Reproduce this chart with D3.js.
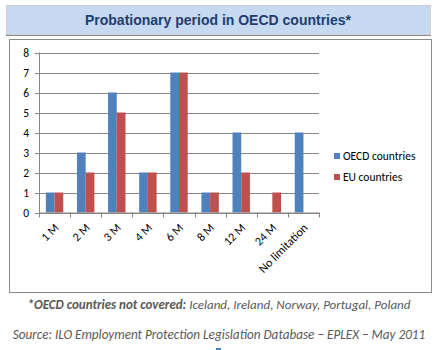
<!DOCTYPE html>
<html>
<head>
<meta charset="utf-8">
<script src="https://cdn.jsdelivr.net/npm/d3@7"></script>
<style>
body { margin: 0; background: #fff; }
svg { display: block; }
</style>
</head>
<body>
<script>
var w = 437;
var h = 350;

// data
var categories = ["1 M", "2 M", "3 M", "4 M", "6 M", "8 M", "12 M", "24 M", "No limitation"];
var seriesNames = ["OECD countries", "EU countries"];
var oecd = [1, 3, 6, 2, 7, 1, 4, 0, 4];
var eu = [1, 2, 5, 2, 7, 1, 2, 1, 0];
var yTicks = [0, 1, 2, 3, 4, 5, 6, 7, 8];

var colors = ["#4f81bd", "#c0504d"];
var font = "Carlito, 'Open Sans', sans-serif";

var svg = d3.select("body").append("svg")
    .attr("width", w)
    .attr("height", h);

// title band
svg.append("rect")
    .attr("x", 6.5).attr("y", 5.5)
    .attr("width", 424).attr("height", 29)
    .attr("fill", "#c6d9f1")
    .attr("stroke", "#d0d0d0");
svg.append("line")
    .attr("x1", 6).attr("x2", 431).attr("y1", 35.5).attr("y2", 35.5)
    .attr("stroke", "#8c8c8c");
svg.append("text")
    .attr("x", 218).attr("y", 25)
    .attr("text-anchor", "middle")
    .attr("font-family", "'Liberation Sans', Arial, sans-serif")
    .attr("font-weight", "bold")
    .attr("font-size", 14)
    .attr("fill", "#1f3d6e")
    .text("Probationary period in OECD countries*");

// chart frame
svg.append("rect")
    .attr("x", 9.5).attr("y", 39.5)
    .attr("width", 422).attr("height", 253)
    .attr("fill", "#fff")
    .attr("stroke", "#8c8c8c");

var pLeft = 39, pRight = 319, pTop = 52.5, pBottom = 212.5;

var x = d3.scaleBand()
    .domain(categories)
    .range([pLeft, pRight])
    .paddingInner(0.44)
    .paddingOuter(0.22);

var xs = d3.scaleBand()
    .domain(seriesNames)
    .range([0, x.bandwidth()]);

var y = d3.scaleLinear()
    .domain([0, 8])
    .range([pBottom, pTop]);

var g = svg.append("g");

// gridlines
g.selectAll(".grid")
    .data(yTicks)
    .enter().append("line")
    .attr("x1", pLeft - 4).attr("x2", pRight)
    .attr("y1", function(d) { return Math.round(y(d)) + 0.5; })
    .attr("y2", function(d) { return Math.round(y(d)) + 0.5; })
    .attr("stroke", "#868686");

// y tick labels
g.selectAll(".ylab")
    .data(yTicks)
    .enter().append("text")
    .attr("x", 29)
    .attr("y", function(d) { return y(d) + 4; })
    .attr("text-anchor", "end")
    .attr("font-family", font)
    .attr("font-size", 11.5)
    .attr("fill", "#000")
    .text(function(d) { return d; });

// bars
var series = [oecd, eu];
series.forEach(function(vals, si) {
    g.selectAll(".bar" + si)
        .data(vals)
        .enter().append("rect")
        .attr("x", function(d, i) { return x(categories[i]) + xs(seriesNames[si]); })
        .attr("y", function(d) { return y(d); })
        .attr("width", xs.bandwidth())
        .attr("height", function(d) { return y(0) - y(d); })
        .attr("fill", colors[si]);
});

// axes lines
g.append("line")
    .attr("x1", pLeft + 0.5).attr("x2", pLeft + 0.5)
    .attr("y1", pTop).attr("y2", pBottom + 0.5)
    .attr("stroke", "#868686");
g.append("line")
    .attr("x1", pLeft).attr("x2", pRight)
    .attr("y1", pBottom + 0.5).attr("y2", pBottom + 0.5)
    .attr("stroke", "#868686");

// x ticks at category boundaries
var bounds = d3.range(categories.length + 1).map(function(i) { return pLeft + i * (pRight - pLeft) / categories.length; });
g.selectAll(".xtick")
    .data(bounds)
    .enter().append("line")
    .attr("x1", function(d) { return Math.round(d) + 0.5; })
    .attr("x2", function(d) { return Math.round(d) + 0.5; })
    .attr("y1", pBottom).attr("y2", pBottom + 5)
    .attr("stroke", "#868686");

// x labels
g.selectAll(".xlab")
    .data(categories)
    .enter().append("text")
    .attr("transform", function(d) {
        return "translate(" + (x(d) + x.bandwidth() / 2 + 5) + "," + (pBottom + 16) + ") rotate(-45)";
    })
    .attr("text-anchor", "end")
    .attr("font-family", font)
    .attr("font-size", 12)
    .attr("fill", "#000")
    .text(function(d) { return d; });

// legend
var legend = svg.append("g");
seriesNames.forEach(function(name, i) {
    legend.append("rect")
        .attr("x", 334).attr("y", 153 + i * 21)
        .attr("width", 6).attr("height", 6)
        .attr("fill", colors[i]);
    legend.append("text")
        .attr("x", 343).attr("y", 160 + i * 21)
        .attr("font-family", font)
        .attr("font-size", 11.5)
        .attr("fill", "#000")
        .text(name);
});

// notes
var note = svg.append("text")
    .attr("x", 219).attr("y", 309)
    .attr("text-anchor", "middle")
    .attr("font-family", font)
    .attr("font-style", "italic")
    .attr("font-size", 13)
    .attr("fill", "#595959");
note.append("tspan").attr("font-weight", "bold").text("*OECD  countries not covered:");
note.append("tspan").text(" Iceland, Ireland, Norway, Portugal, Poland");

svg.append("text")
    .attr("x", 219).attr("y", 339)
    .attr("text-anchor", "middle")
    .attr("font-family", font)
    .attr("font-style", "italic")
    .attr("font-size", 13.2)
    .attr("fill", "#595959")
    .text("Source: ILO Employment Protection Legislation Database \u2013 EPLEX \u2013 May 2011");

svg.append("rect")
    .attr("x", 216).attr("y", 348)
    .attr("width", 5).attr("height", 2)
    .attr("fill", "#4f81bd");
</script>
</body>
</html>
